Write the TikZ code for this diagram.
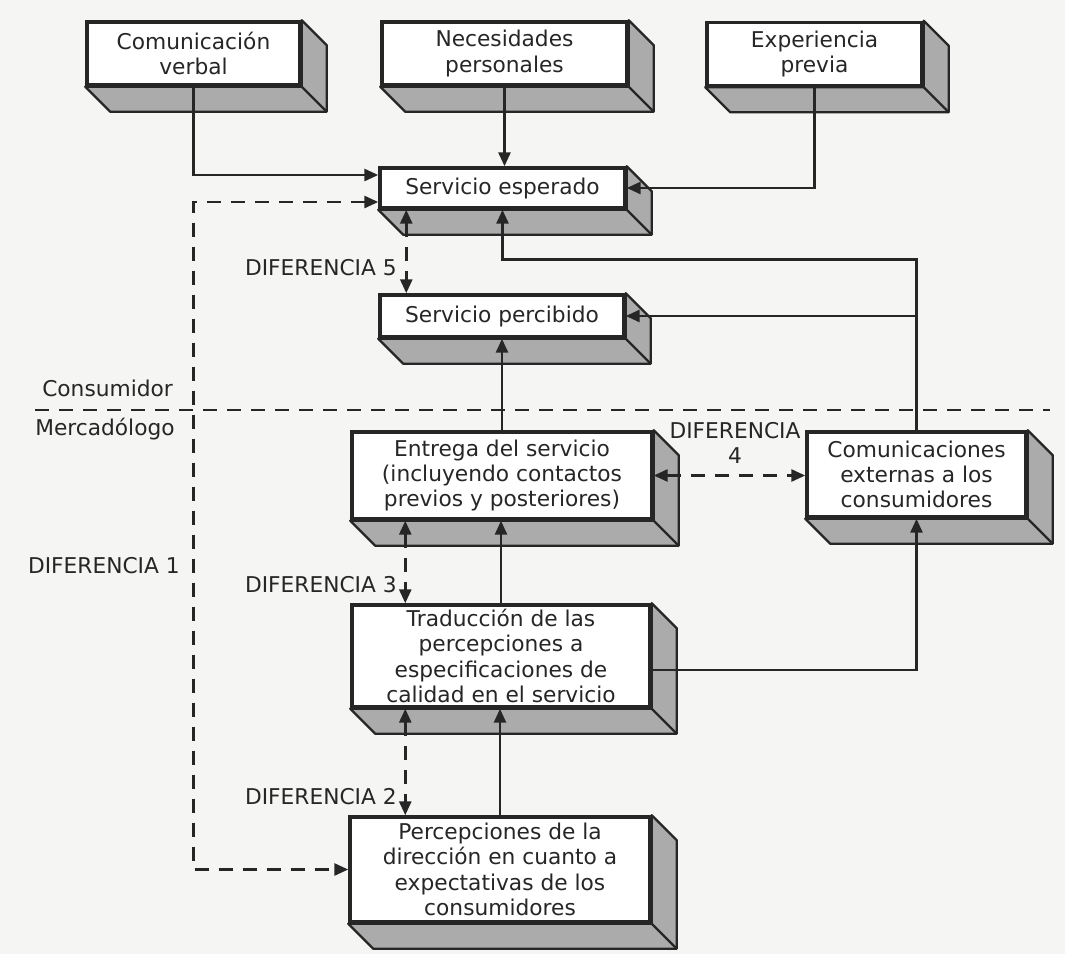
\documentclass[tikz,border=0pt]{standalone}
\usepackage{fontspec}
\setmainfont{DejaVu Sans}
\usetikzlibrary{arrows.meta,positioning,calc}

\definecolor{tinta}{HTML}{262626}
\definecolor{sombragris}{HTML}{ABABAB}
\definecolor{papel}{HTML}{F5F5F3}

% shaded depth of a box (bottom and right faces)
\newcommand{\sombrabloque}[1]{%
  \filldraw[sombra] (#1.south west) -- ++(25,25) -- ($(#1.south east)+(25,25)$)
    -- ($(#1.north east)+(25,25)$) -- (#1.north east) -- (#1.south east) -- cycle;
  \draw[sombra] (#1.south east) -- ++(25,25);
}

\begin{document}
\begin{tikzpicture}[
    x=0.75pt, y=-0.75pt,
    caja/.style={rectangle, draw=tinta, line width=2.6pt, fill=white, text=tinta, align=center, inner sep=0pt, font=\fontsize{16.3}{19}\selectfont},
    sombra/.style={draw=tinta, line width=1.8pt, fill=sombragris, line join=round},
    flujo/.style={draw=tinta, line width=2.1pt, -{Triangle[length=10.5pt,width=9pt]}},
    brecha/.style={draw=tinta, line width=2.1pt, dash pattern=on 10.5pt off 7.5pt, {Triangle[length=10.5pt,width=9pt]}-{Triangle[length=10.5pt,width=9pt]}},
    etiqueta/.style={text=tinta, font=\fontsize{16.3}{19}\selectfont, inner sep=0pt, align=center}
]

\fill[papel] (0,0) rectangle (1065,954);
\useasboundingbox (0,0) rectangle (1065,954);

% Consumer side
\node[caja, minimum width=159.75pt, minimum height=47.25pt] (verbal) at (193.5,53.5) {Comunicación\\verbal};
\node[caja, minimum width=183.75pt, minimum height=47.25pt] (necesidades) at (504.5,53.5) {Necesidades\\personales};
\node[caja, minimum width=161.25pt, minimum height=47.25pt] (experiencia) at (814.5,54) {Experiencia\\previa};
\node[caja, minimum width=183.75pt, minimum height=30pt] (esperado) at (502.5,188) {Servicio esperado};
\node[caja, minimum width=183pt, minimum height=31.5pt] (percibido) at (502,316) {Servicio percibido};

% Marketer side
\node[caja, minimum width=225pt, minimum height=65.25pt] (entrega) at (502,475.5) {Entrega del servicio\\(incluyendo contactos\\previos y posteriores)};
\node[caja, minimum width=164.25pt, minimum height=63.75pt] (comext) at (916.5,474.5) {Comunicaciones\\externas a los\\consumidores};
\node[caja, minimum width=223.5pt, minimum height=76.5pt] (traduccion) at (501,656) {Traducción de las\\percepciones a\\especificaciones de\\calidad en el servicio};
\node[caja, minimum width=225pt, minimum height=78.75pt] (percepciones) at (500,869.5) {Percepciones de la\\dirección en cuanto a\\expectativas de los\\consumidores};

\foreach \b in {verbal,necesidades,experiencia,esperado,percibido,entrega,comext,traduccion,percepciones}
  \sombrabloque{\b};

% Divider
\coordinate (divizq) at (35,410);
\coordinate (divder) at (1050,410);
\draw[draw=tinta, line width=2.1pt, dash pattern=on 10.5pt off 7.5pt] (divizq) -- (divder);
\node[etiqueta, anchor=west] (consumidor) at (42,388) {Consumidor};
\node[etiqueta, anchor=west] (mercadologo) at (35,429) {Mercadólogo};

% Flows
\draw[flujo] (verbal.south) |- ($(esperado.west)+(0,-13)$);
\draw[flujo] (necesidades.south) -- (necesidades.south |- esperado.north);
\draw[flujo] (experiencia.south) |- (esperado.east);
\draw[flujo] (comext.north) |- ($(esperado.south)+(0,50)$) -- (esperado.south);
\draw[flujo] (comext.north |- percibido.east) -- (percibido.east);
\draw[flujo] (entrega.north) -- (percibido.south);
\draw[flujo] (traduccion.north) -- (traduccion.north |- entrega.south);
\draw[flujo] (percepciones.north) -- (percepciones.north |- traduccion.south);
\draw[flujo] ($(traduccion.east)+(0,14)$) -| (comext.south);

% Gaps
\draw[brecha] ($(esperado.west)+(0,14)$) -| (verbal.south |- percepciones.west) -- (percepciones.west);
\draw[brecha] ($(esperado.south west)+(28,0)$) -- ($(percibido.north west)+(28,0)$);
\draw[brecha] ($(entrega.south west)+(55,0)$) -- ($(traduccion.north west)+(55,0)$);
\draw[brecha] ($(traduccion.south west)+(55,0)$) -- ($(percepciones.north west)+(57,0)$);
\draw[brecha] (entrega.east) -- (entrega.east -| comext.west);

\node[etiqueta, anchor=east] (dif5) at (397,268) {DIFERENCIA 5};
\node[etiqueta] (dif4) at (735,443) {DIFERENCIA\\4};
\node[etiqueta, anchor=east] (dif3) at (397,585) {DIFERENCIA 3};
\node[etiqueta, anchor=east] (dif2) at (397,797) {DIFERENCIA 2};
\node[etiqueta, anchor=east] (dif1) at (180,566) {DIFERENCIA 1};

\end{tikzpicture}
\end{document}
